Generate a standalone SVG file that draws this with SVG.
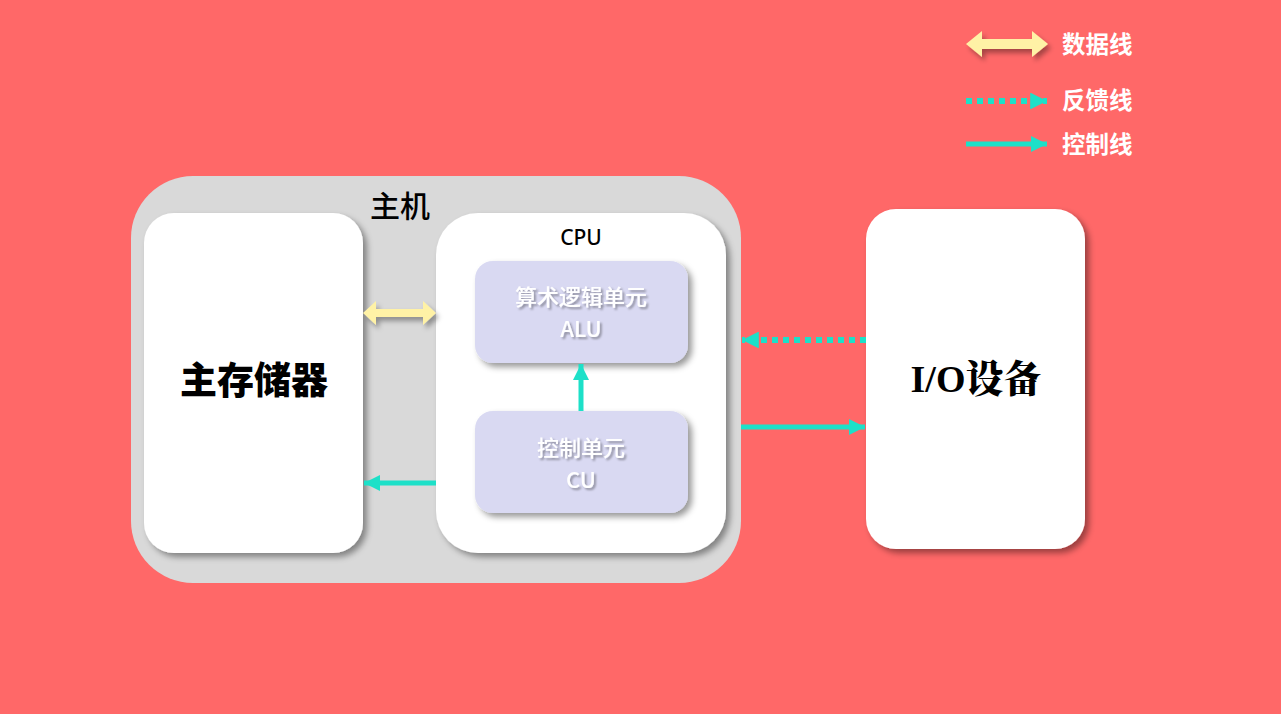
<svg xmlns="http://www.w3.org/2000/svg" width="1281" height="714" viewBox="0 0 1281 714">
<defs>
<style>
.box{fill:#fff;filter:url(#sh)}
.unit{fill:#D9D9F2;filter:url(#sh)}
.ut{font-family:"Noto Sans CJK SC","Noto Sans",sans-serif;font-size:22px;font-weight:500;fill:#fff;text-anchor:middle;filter:url(#tsh)}
.leg{font-family:"Noto Sans CJK SC",sans-serif;font-size:23.5px;font-weight:bold;fill:#fff}
.ctrl{stroke:#1DE0C8;stroke-width:5;fill:none}
.fb{stroke:#1DE0C8;stroke-width:6;stroke-dasharray:6 5;fill:none}
.data{fill:#FFF2A6;filter:url(#ash)}
</style>
<filter id="sh" x="-10%" y="-10%" width="130%" height="130%">
<feDropShadow dx="4" dy="4" stdDeviation="3" flood-color="#000" flood-opacity="0.4"/>
</filter>
<filter id="ash" x="-20%" y="-50%" width="140%" height="250%">
<feDropShadow dx="3" dy="4" stdDeviation="2.5" flood-color="#000" flood-opacity="0.35"/>
</filter>
<filter id="tsh" x="-10%" y="-20%" width="130%" height="150%">
<feDropShadow dx="2" dy="2" stdDeviation="1" flood-color="#000" flood-opacity="0.35"/>
</filter>
<marker id="ah" viewBox="0 0 10 10" refX="10" refY="5" markerWidth="3.2" markerHeight="3.2" orient="auto-start-reverse" markerUnits="strokeWidth">
<path d="M0,0 L10,5 L0,10 z" fill="#1DE0C8"/>
</marker>
<marker id="ahf" viewBox="0 0 10 10" refX="10" refY="5" markerWidth="2.8" markerHeight="2.8" orient="auto-start-reverse" markerUnits="strokeWidth">
<path d="M0,0 L10,5 L0,10 z" fill="#1DE0C8"/>
</marker>
</defs>
<rect x="0" y="0" width="1281" height="714" fill="#FF6868"/>

<g id="host">
<rect x="131" y="176" width="610" height="407" rx="62" fill="#D9D9D9"/>
<text x="400" y="217" font-family="'Noto Sans CJK SC',sans-serif" font-size="30" font-weight="500" text-anchor="middle" fill="#000">主机</text>
</g>

<g id="memory">
<rect class="box" x="144" y="213" width="219" height="340" rx="30"/>
<text x="254" y="394" font-family="'Noto Sans CJK SC',sans-serif" font-size="37" font-weight="900" text-anchor="middle" fill="#000">主存储器</text>
</g>

<g id="cpu">
<rect class="box" x="436" y="213" width="290" height="340" rx="42"/>
<text x="581" y="245" font-family="'Noto Sans','Noto Sans CJK SC',sans-serif" font-size="21" font-weight="500" text-anchor="middle" fill="#000">CPU</text>
</g>

<g id="alu">
<rect class="unit" x="475" y="261" width="213" height="102" rx="18"/>
<text class="ut" x="581" y="305">算术逻辑单元</text>
<text class="ut" x="581" y="337">ALU</text>
</g>

<g id="cu">
<rect class="unit" x="475" y="411" width="213" height="102" rx="18"/>
<text class="ut" x="581" y="456">控制单元</text>
<text class="ut" x="581" y="488">CU</text>
</g>

<g id="io">
<rect class="box" x="866" y="209" width="219" height="340" rx="30"/>
<text x="976" y="392" font-family="'Liberation Serif','Noto Serif CJK SC','Noto Sans CJK SC',serif" font-size="38" font-weight="900" text-anchor="middle" fill="#000">I/O设备</text>
</g>

<g id="connectors">
<path class="data" d="M363,313 L376,301 L376,309 L423,309 L423,301 L436,313 L423,325 L423,317 L376,317 L376,325 Z"/>
<line class="ctrl" x1="581" y1="411" x2="581" y2="364" marker-end="url(#ah)"/>
<line class="ctrl" x1="436" y1="483" x2="364" y2="483" marker-end="url(#ah)"/>
<line class="fb" x1="866" y1="340" x2="742" y2="340" marker-end="url(#ahf)"/>
<line class="ctrl" x1="741" y1="427" x2="865" y2="427" marker-end="url(#ah)"/>
</g>

<g id="legend">
<path class="data" d="M966,44 L982,31 L982,39 L1032,39 L1032,31 L1048,44 L1032,57 L1032,49 L982,49 L982,57 Z"/>
<text class="leg" x="1062" y="53">数据线</text>
<line class="fb" x1="966" y1="101" x2="1047" y2="101" marker-end="url(#ahf)"/>
<text class="leg" x="1062" y="109">反馈线</text>
<line class="ctrl" x1="966" y1="144" x2="1047" y2="144" marker-end="url(#ah)"/>
<text class="leg" x="1062" y="153">控制线</text>
</g>
</svg>
